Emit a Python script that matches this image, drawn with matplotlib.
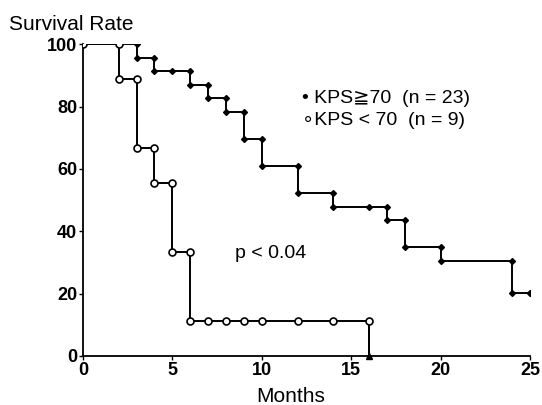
import numpy as np
import matplotlib.pyplot as plt

hi_mesi = [0, 3, 4, 6, 7, 8, 9, 10, 12, 14, 17, 18, 20, 24, 25]
hi_surv = [100, 95.7, 91.3, 87.0, 82.6, 78.3, 69.6, 60.9, 52.2, 47.8, 43.5, 34.8, 30.4, 20.3, 20.3]
hi_marker = [3, 4, 5, 6, 7, 8, 9, 10, 12, 14, 16, 17, 18, 20, 24, 25]

lo_mesi = [0, 2, 3, 4, 5, 6, 16]
lo_surv = [100, 88.9, 66.7, 55.6, 33.3, 11.1, 0]
lo_marker = [0, 2, 3, 4, 5, 6, 7, 8, 9, 10, 12, 14, 16]

x_ticks = [0, 5, 10, 15, 20, 25]
y_ticks = [0, 20, 40, 60, 80, 100]


def punti_marker(mesi, surv, marker):
    # valore prima e dopo ogni caduta
    xs, ys = [], []
    for m in marker:
        idx = np.searchsorted(mesi, m, side='right') - 1
        if m in mesi and idx > 0:
            xs.append(m)
            ys.append(surv[idx - 1])
        xs.append(m)
        ys.append(surv[idx])
    return xs, ys


fig = plt.figure(figsize=(5.42, 4.05), dpi=100)
ax = fig.add_axes([0.153, 0.121, 0.825, 0.770])

ax.step(hi_mesi, hi_surv, where='post', color='black', lw=1.4)
ax.step(lo_mesi, lo_surv, where='post', color='black', lw=1.4)
ax.plot([lo_mesi[-1], lo_mesi[-1]], [lo_surv[-2], 0], color='black', lw=1.4)

hx, hy = punti_marker(hi_mesi, hi_surv, hi_marker)
ax.plot(hx, hy, 'D', color='black', ms=3, ls='none', zorder=3)
lx, ly = punti_marker(lo_mesi, lo_surv, lo_marker[:-1])
lx.append(lo_marker[-1])
ly.append(lo_surv[-2])
ax.plot(lx, ly, 'o', mfc='white', mec='black', mew=1.2, ms=5, ls='none', zorder=3)
ax.plot([lo_marker[-1]], [0], '^', color='black', ms=4, zorder=3, clip_on=False)

ax.set_xlim(0, 25)
ax.set_ylim(0, 100)
ax.set_xticks(x_ticks)
ax.set_yticks(y_ticks)
for s in ['top', 'right']:
    ax.spines[s].set_visible(False)
for s in ['left', 'bottom']:
    ax.spines[s].set_linewidth(1.3)
ax.tick_params(direction='out', length=3, width=1, labelsize=13, pad=1)
for lab in ax.get_xticklabels() + ax.get_yticklabels():
    lab.set_fontweight('bold')
    lab.set_family('Liberation Sans')

fam = ['Liberation Sans', 'DejaVu Sans']
fig.text(0.016, 0.94, 'Survival Rate', fontsize=15, family=fam, va='center', ha='left')
ax.set_xlabel('Months', fontsize=15, family=fam)
ax.xaxis.set_label_coords(0.465, -0.1)

ax.text(0.49, 0.825, '• KPS\u226770  (n = 23)', transform=ax.transAxes, fontsize=14,
        family=fam, va='center')
ax.text(0.49, 0.755, '\u2218KPS < 70  (n = 9)', transform=ax.transAxes, fontsize=14,
        family=fam, va='center')
ax.text(0.34, 0.33, 'p < 0.04', transform=ax.transAxes, fontsize=14, family=fam, va='center')

fig.savefig('out.png', dpi=100)
